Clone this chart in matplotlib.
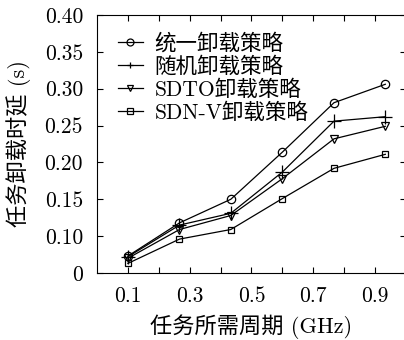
import matplotlib.pyplot as plt

plt.rcParams['font.family'] = ['cmr10', 'Noto Sans CJK SC']
plt.rcParams['axes.formatter.use_mathtext'] = True

# 任务所需周期 (GHz)
cycles = [0.1, 0.267, 0.433, 0.6, 0.767, 0.933]

# 各策略的任务卸载时延 (s)
unified = [0.073, 0.118, 0.150, 0.214, 0.281, 0.306]
random_ = [0.072, 0.115, 0.131, 0.187, 0.256, 0.262]
sdto = [0.070, 0.109, 0.128, 0.178, 0.232, 0.249]
sdnv = [0.063, 0.096, 0.109, 0.151, 0.192, 0.211]

labels = ['统一卸载策略', '随机卸载策略', 'SDTO卸载策略', 'SDN-V卸载策略']
markers = ['o', '+', 'v', 's']
sizes = [6, 10, 6, 5]

xticks = [0.1, 0.2, 0.3, 0.4, 0.5, 0.6, 0.7, 0.8, 0.9]
xticklabels = ['0.1', '', '0.3', '', '0.5', '', '0.7', '', '0.9']
yticks = [0.05, 0.10, 0.15, 0.20, 0.25, 0.30, 0.35, 0.40]
yticklabels = ['0', '0.10', '0.15', '0.20', '0.25', '0.30', '0.35', '0.40']

fig = plt.figure(figsize=(4.04, 3.40), dpi=100)
ax = fig.add_axes([0.240, 0.197, 0.765, 0.759])

for ys, lab, m, s in zip([unified, random_, sdto, sdnv], labels, markers, sizes):
    ax.plot(cycles, ys, color='black', lw=0.9, marker=m, markersize=s,
            markerfacecolor='none', markeredgecolor='black', markeredgewidth=0.9,
            label=lab)

ax.set_xlim(0, 1.0)
ax.set_ylim(0.05, 0.40)
ax.set_xticks(xticks)
ax.set_xticklabels(xticklabels, fontsize=15.5)
ax.set_yticks(yticks)
ax.set_yticklabels(yticklabels, fontsize=15.5)
ax.tick_params(direction='in', top=True, right=True, length=4, width=0.8)
ax.tick_params(axis='x', pad=10)
ax.tick_params(axis='y', pad=10)

ax.set_xlabel('任务所需周期 (GHz)', fontsize=16, labelpad=6)
ax.set_ylabel('任务卸载时延 (s)', fontsize=16, labelpad=10)

leg = ax.legend(loc='upper left', frameon=False, fontsize=15.5, handlelength=1.15,
                handletextpad=0.55, labelspacing=0.12, borderaxespad=0.0,
                bbox_to_anchor=(0.04, 0.965))
for h in leg.legend_handles:
    h.set_markersize(5)

fig.savefig('out.png', dpi=100)
